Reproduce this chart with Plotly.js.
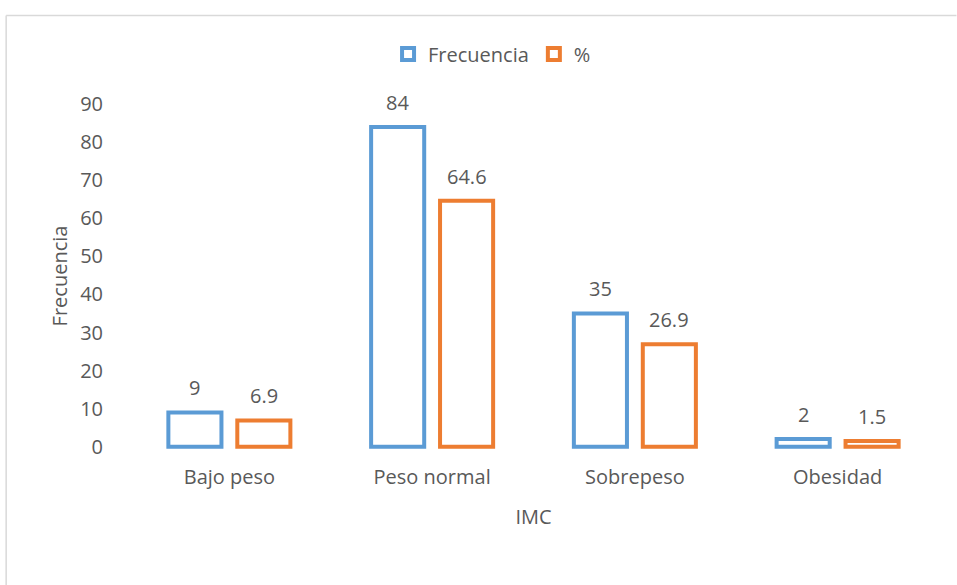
<!DOCTYPE html>
<html>
<head>
<meta charset="utf-8">
<script src="https://cdn.plot.ly/plotly-3.0.1.min.js"></script>
<style>html,body{margin:0;padding:0;background:#fff;}#chart{width:957px;height:585px;}</style>
</head>
<body>
<div id="chart"></div>
<script>
const categories = ["Bajo peso", "Peso normal", "Sobrepeso", "Obesidad"];
const frecuencia = [9, 84, 35, 2];
const porcentaje = [6.9, 64.6, 26.9, 1.5];
const frecuenciaLabels = ["9", "84", "35", "2"];
const porcentajeLabels = ["6.9", "64.6", "26.9", "1.5"];
const yTicks = [0, 10, 20, 30, 40, 50, 60, 70, 80, 90];

const FONT = "'Open Sans', 'Noto Sans', sans-serif";
const GREY = "#595959";
const FS = 20;

const traces = [
  {
    type: "bar", name: "Frecuencia", x: categories, y: frecuencia,
    marker: {color: "#ffffff", line: {color: "#5B9BD5", width: 4}}
  },
  {
    type: "bar", name: "%", x: categories, y: porcentaje,
    marker: {color: "#ffffff", line: {color: "#ED7D31", width: 4}}
  }
];

const L = 127.5, R = 17.5, T = 103, B = 136;
const W = 957 - L - R, H = 585 - T - B;
const px = v => (v - L) / W;
const py = v => (585 - B - v) / H;

const annotations = [];
categories.forEach((c, i) => {
  annotations.push({x: c, y: frecuencia[i], xref: "x", yref: "y", text: frecuenciaLabels[i],
    showarrow: false, yanchor: "bottom", xshift: -34.5, yshift: 9,
    font: {family: FONT, size: FS, color: GREY}});
  annotations.push({x: c, y: porcentaje[i], xref: "x", yref: "y", text: porcentajeLabels[i],
    showarrow: false, yanchor: "bottom", xshift: 34.5, yshift: 9,
    font: {family: FONT, size: FS, color: GREY}});
});

const layout = {
  width: 957, height: 585,
  margin: {l: L, r: R, t: T, b: B},
  paper_bgcolor: "#ffffff", plot_bgcolor: "#ffffff",
  font: {family: FONT, size: FS, color: GREY},
  barmode: "group", bargap: 0.32, bargroupgap: 0.23,
  showlegend: true,
  legend: {orientation: "h", x: px(492), xanchor: "center", y: py(54), yanchor: "middle",
           font: {family: FONT, size: FS, color: GREY}, itemwidth: 30, tracegroupgap: 0},
  xaxis: {
    showgrid: false, zeroline: false, showline: false, ticks: "",
    ticklabelstandoff: 14,
    tickfont: {family: FONT, size: FS, color: GREY},
    title: {text: "IMC", font: {family: FONT, size: FS, color: GREY}, standoff: 20},
    automargin: false
  },
  yaxis: {
    range: [-0.6, 90.3], tickvals: yTicks, ticktext: yTicks.map(String),
    showgrid: false, zeroline: false, showline: false, ticks: "",
    ticklabelstandoff: 24,
    tickfont: {family: FONT, size: FS, color: GREY},
    title: {text: "Frecuencia", font: {family: FONT, size: FS, color: GREY}, standoff: 7},
    automargin: false
  },
  annotations: annotations,
  shapes: [
    {type: "line", xref: "paper", yref: "paper", x0: px(5.5), x1: px(957), y0: py(15.5), y1: py(15.5),
     line: {color: "#d9d9d9", width: 1.5}},
    {type: "line", xref: "paper", yref: "paper", x0: px(5.5), x1: px(5.5), y0: py(15.5), y1: py(585),
     line: {color: "#d9d9d9", width: 1.5}}
  ]
};

Plotly.newPlot("chart", traces, layout, {displayModeBar: false, staticPlot: true});
</script>
</body>
</html>
